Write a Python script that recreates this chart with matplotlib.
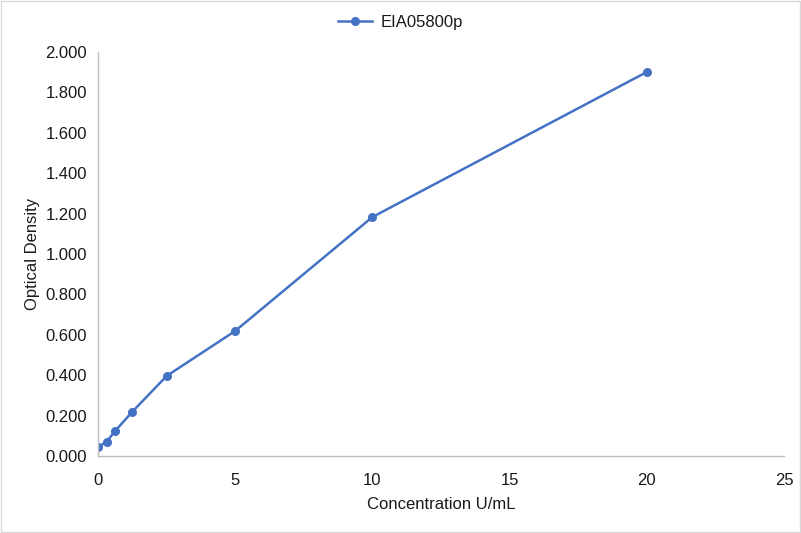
import matplotlib.pyplot as plt
from matplotlib.patches import Rectangle

# === Data ===
conc = [0, 0.3125, 0.625, 1.25, 2.5, 5, 10, 20]
od = [0.043, 0.071, 0.124, 0.219, 0.396, 0.619, 1.183, 1.901]
series_name = "EIA05800p"
yticks = [0.0, 0.2, 0.4, 0.6, 0.8, 1.0, 1.2, 1.4, 1.6, 1.8, 2.0]
xticks = [0, 5, 10, 15, 20, 25]

plt.rcParams['font.family'] = ['Liberation Sans', 'DejaVu Sans']
LINE = '#4472C4'
TXT = '#1A1A1A'
FS = 12

fig = plt.figure(figsize=(8.01, 5.33), dpi=100)
ax = fig.add_axes([98 / 801, 1 - 456 / 533, (784 - 98) / 801, (456 - 52) / 533])

ax.plot(conc, od, color=LINE, lw=1.8, marker='o', ms=5.5, label=series_name)

ax.set_xlim(0, 25)
ax.set_ylim(0, 2.0)
ax.set_xticks(xticks)
ax.set_yticks(yticks)
ax.set_yticklabels([f"{v:.3f}" for v in yticks])
ax.tick_params(axis='y', length=0, labelsize=FS, labelcolor=TXT, pad=8)
ax.tick_params(axis='x', length=0, labelsize=FS, labelcolor=TXT, pad=12)

for s in ['top', 'right']:
    ax.spines[s].set_visible(False)
for s in ['left', 'bottom']:
    ax.spines[s].set_color('#BFBFBF')
    ax.spines[s].set_linewidth(1)

ax.set_xlabel("Concentration U/mL", fontsize=FS, color=TXT, labelpad=7)
ax.set_ylabel("Optical Density", fontsize=FS, color=TXT, labelpad=4)

# legend centred on the whole chart, not the plot area
fig.legend(loc='center', bbox_to_anchor=(0.5, 1 - 22 / 533), frameon=False,
           fontsize=FS, labelcolor=TXT, handlelength=2.0, handletextpad=0.5)

# outer chart border
fig.patches.append(Rectangle((0.001, 0.001), 0.998, 0.998, transform=fig.transFigure,
                             fill=False, edgecolor='#D9D9D9', lw=1))

fig.savefig("out.png", dpi=100)
